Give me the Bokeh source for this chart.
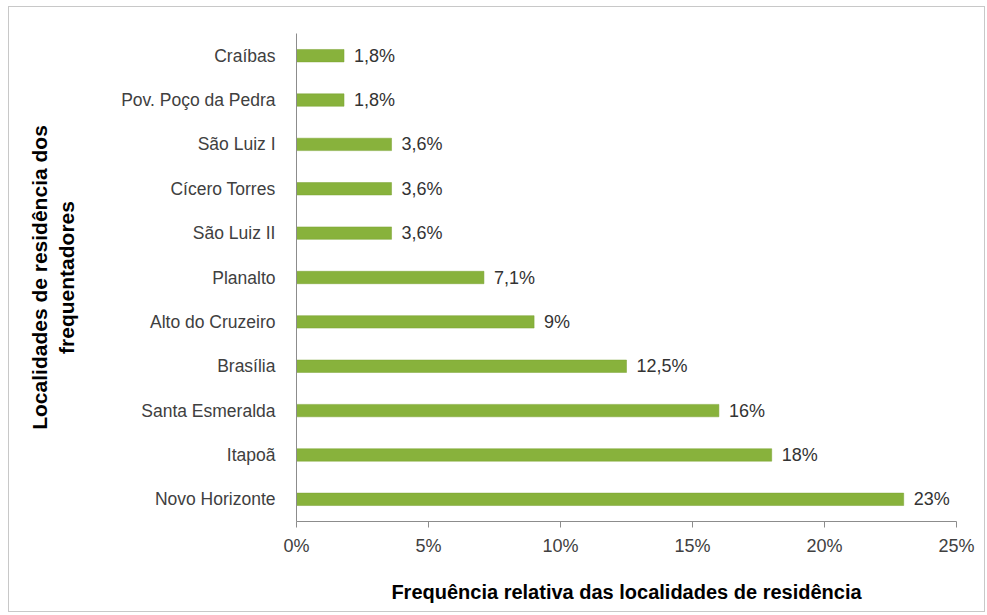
from bokeh.plotting import figure
from bokeh.models import ColumnDataSource, FixedTicker, CustomJSTickFormatter
from bokeh.embed import file_html
from bokeh.resources import INLINE
from bokeh.core.properties import value

categories = ["Novo Horizonte", "Itapoã", "Santa Esmeralda", "Brasília", "Alto do Cruzeiro",
              "Planalto", "São Luiz II", "Cícero Torres", "São Luiz I", "Pov. Poço da Pedra", "Craíbas"]
values = [23, 18, 16, 12.5, 9, 7.1, 3.6, 3.6, 3.6, 1.8, 1.8]
labels = ["23%", "18%", "16%", "12,5%", "9%", "7,1%", "3,6%", "3,6%", "3,6%", "1,8%", "1,8%"]
x_ticks = [0, 5, 10, 15, 20, 25]

src = ColumnDataSource(dict(cat=categories, val=values, lab=labels))

p = figure(width=977, height=606, y_range=categories, x_range=(0, 25),
           output_backend="svg", toolbar_location=None,
           min_border_left=287, min_border_right=30, min_border_top=26, min_border_bottom=92)
p.styles = {"border": "1px solid #c8c8c8", "margin-left": "8px", "margin-top": "6px"}

p.hbar(y="cat", right="val", left=0, height=0.28, source=src,
       fill_color="#88B23C", line_color="#7AA232", line_width=0.5)
p.text(x="val", y="cat", text="lab", source=src, x_offset=10,
       text_baseline="middle", text_align="left", text_font_size="18px",
       text_color="#333333", text_font=value("Liberation Sans"))

p.xgrid.visible = False
p.ygrid.visible = False
p.outline_line_color = None

p.xaxis.ticker = FixedTicker(ticks=x_ticks)
p.xaxis.formatter = CustomJSTickFormatter(code="return tick + '%';")
p.xaxis.major_tick_in = 0
p.xaxis.major_tick_out = 6
p.xaxis.minor_tick_line_color = None
p.xaxis.axis_line_color = "#8c8c8c"
p.xaxis.major_tick_line_color = "#8c8c8c"
p.xaxis.major_label_text_font_size = "18px"
p.xaxis.major_label_text_color = "#404040"
p.xaxis.major_label_text_font = "Liberation Sans"
p.xaxis.major_label_standoff = 8
p.xaxis.axis_label = "Frequência relativa das localidades de residência"
p.xaxis.axis_label_text_font = "Liberation Sans"
p.xaxis.axis_label_text_font_style = "bold"
p.xaxis.axis_label_text_font_size = "20px"
p.xaxis.axis_label_text_color = "#000000"
p.xaxis.axis_label_standoff = 22

p.yaxis.major_tick_line_color = None
p.yaxis.minor_tick_line_color = None
p.yaxis.axis_line_color = "#8c8c8c"
p.yaxis.major_label_text_font_size = "17.5px"
p.yaxis.major_label_text_color = "#404040"
p.yaxis.major_label_text_font = "Liberation Sans"
p.yaxis.major_label_standoff = 15
p.yaxis.axis_label = "Localidades de residência dos\nfrequentadores"
p.yaxis.axis_label_text_font = "Liberation Sans"
p.yaxis.axis_label_text_font_style = "bold"
p.yaxis.axis_label_text_font_size = "21px"
p.yaxis.axis_label_text_color = "#000000"
p.yaxis.axis_label_standoff = 40

open("out.html", "w").write(file_html(p, INLINE))
